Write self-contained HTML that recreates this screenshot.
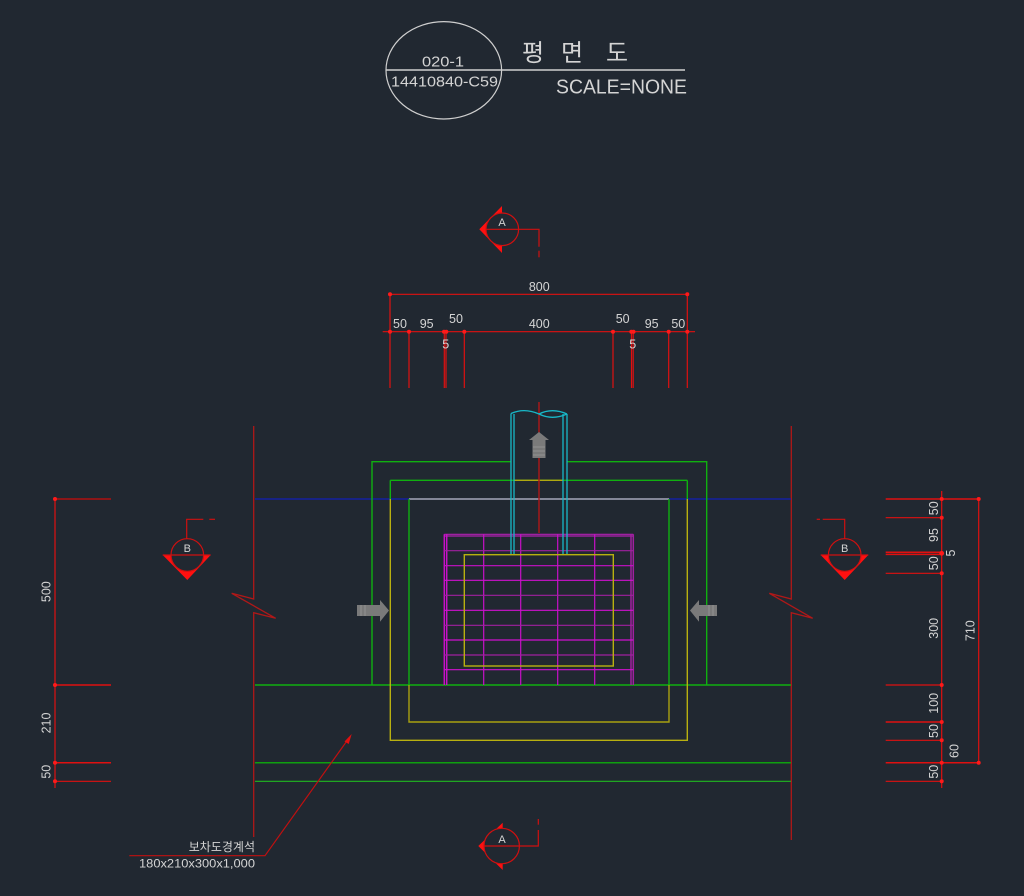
<!DOCTYPE html>
<html><head><meta charset="utf-8"><style>
html,body{margin:0;padding:0;background:#212831;}
svg{display:block;}
text{font-family:"Liberation Sans","Noto Sans CJK KR",sans-serif;fill:#d4d4d4;}
</style></head><body>
<svg width="1024" height="896" viewBox="0 0 1024 896" xmlns="http://www.w3.org/2000/svg">
<rect width="1024" height="896" fill="#212831"/>

<!-- Title block -->
<ellipse cx="443.8" cy="70.3" rx="57.8" ry="48.7" fill="none" stroke="#cfcfcf" stroke-width="1.2"/>
<line x1="386" y1="70" x2="685" y2="70" stroke="#cfcfcf" stroke-width="1.5"/>
<text x="443" y="66.7" font-size="15" text-anchor="middle" textLength="42" lengthAdjust="spacingAndGlyphs">020-1</text>
<text x="391" y="86.7" font-size="15" textLength="107" lengthAdjust="spacingAndGlyphs">14410840-C59</text>
<text x="522" y="61" font-size="24">평</text>
<text x="561" y="61" font-size="24">면</text>
<text x="606" y="61" font-size="24">도</text>
<text x="556" y="93.3" font-size="20" textLength="131" lengthAdjust="spacingAndGlyphs">SCALE=NONE</text>

<!-- Section A top -->
<polygon points="479.3,229.3 502,206 502,253" fill="#ff1010"/>
<circle cx="502.3" cy="229.3" r="16.3" fill="#212831" stroke="#d01010" stroke-width="1.2"/>
<polyline points="486,229.3 539,229.3 539,246.7" fill="none" stroke="#d01010" stroke-width="1.2"/>
<line x1="539" y1="250.7" x2="539" y2="257.3" stroke="#d01010" stroke-width="1.2"/>
<text x="502" y="226" font-size="11" text-anchor="middle">A</text>

<!-- Section A bottom -->
<polygon points="478.3,846 502.7,822.7 502.7,870" fill="#ff1010"/>
<circle cx="501.7" cy="846" r="17.7" fill="#212831" stroke="#d01010" stroke-width="1.2"/>
<polyline points="484,846 538.3,846 538.3,830" fill="none" stroke="#d01010" stroke-width="1.2"/>
<line x1="538.3" y1="819" x2="538.3" y2="824.7" stroke="#d01010" stroke-width="1.2"/>
<text x="502" y="843" font-size="11" text-anchor="middle">A</text>

<!-- Section B left -->
<polygon points="162.7,555 210.7,555 187.3,580" fill="#ff1010"/>
<circle cx="187.3" cy="555" r="16.3" fill="#212831" stroke="#d01010" stroke-width="1.2"/>
<line x1="162.7" y1="555" x2="210.7" y2="555" stroke="#d01010" stroke-width="1.2"/>
<polyline points="186.7,538.7 186.7,519.3 203.3,519.3" fill="none" stroke="#d01010" stroke-width="1.2"/>
<line x1="209.3" y1="519.3" x2="215" y2="519.3" stroke="#d01010" stroke-width="1.2"/>
<text x="187.3" y="552" font-size="11" text-anchor="middle">B</text>

<!-- Section B right -->
<polygon points="820.7,555 868.3,555 844.7,580" fill="#ff1010"/>
<circle cx="844.7" cy="555" r="16.3" fill="#212831" stroke="#d01010" stroke-width="1.2"/>
<line x1="820.7" y1="555" x2="868.3" y2="555" stroke="#d01010" stroke-width="1.2"/>
<polyline points="844.7,538.7 844.7,519.3 822.7,519.3" fill="none" stroke="#d01010" stroke-width="1.2"/>
<line x1="816.7" y1="519.3" x2="820" y2="519.3" stroke="#d01010" stroke-width="1.2"/>
<text x="844.7" y="552" font-size="11" text-anchor="middle">B</text>

<!-- Top dimensions -->
<g stroke="#e01010" stroke-width="1.2" fill="none">
<line x1="390" y1="294.3" x2="687.3" y2="294.3"/>
<line x1="382.7" y1="331.7" x2="695" y2="331.7"/>
<line x1="390" y1="294.3" x2="390" y2="388"/>
<line x1="687.3" y1="294.3" x2="687.3" y2="388"/>
<line x1="409" y1="331.7" x2="409" y2="388"/>
<line x1="444.3" y1="331.7" x2="444.3" y2="388"/>
<line x1="446" y1="331.7" x2="446" y2="388"/>
<line x1="464.3" y1="331.7" x2="464.3" y2="388"/>
<line x1="613" y1="331.7" x2="613" y2="388"/>
<line x1="631.5" y1="331.7" x2="631.5" y2="388"/>
<line x1="633.2" y1="331.7" x2="633.2" y2="388"/>
<line x1="668.7" y1="331.7" x2="668.7" y2="388"/>
</g>
<g fill="#ff1a1a">
<circle cx="390" cy="294.3" r="2"/><circle cx="687.3" cy="294.3" r="2"/>
<circle cx="390" cy="331.7" r="2"/><circle cx="409" cy="331.7" r="2"/>
<circle cx="444" cy="331.7" r="2"/><circle cx="446.3" cy="331.7" r="2"/>
<circle cx="464.3" cy="331.7" r="2"/><circle cx="613" cy="331.7" r="2"/>
<circle cx="631.3" cy="331.7" r="2"/><circle cx="633.5" cy="331.7" r="2"/>
<circle cx="668.7" cy="331.7" r="2"/><circle cx="687.3" cy="331.7" r="2"/>
</g>
<g font-size="12.5" text-anchor="middle">
<text x="539.3" y="291">800</text>
<text x="400" y="328">50</text>
<text x="426.7" y="328">95</text>
<text x="456" y="323">50</text>
<text x="539.3" y="328">400</text>
<text x="622.7" y="323">50</text>
<text x="651.7" y="328">95</text>
<text x="678.3" y="328">50</text>
<text x="445.7" y="348.5">5</text>
<text x="632.7" y="348.5">5</text>
</g>

<!-- Left dimensions -->
<g stroke="#e01010" stroke-width="1.2">
<line x1="55" y1="499" x2="55" y2="788"/>
<line x1="55" y1="499" x2="111" y2="499" stroke="#b01010" stroke-width="1.6"/>
<line x1="55" y1="685" x2="111" y2="685" stroke-width="1.5"/>
<line x1="55" y1="762.7" x2="111" y2="762.7" stroke-width="1.5"/>
<line x1="55" y1="781.3" x2="111" y2="781.3"/>
</g>
<g fill="#ff1a1a">
<circle cx="55" cy="499" r="2"/><circle cx="55" cy="685" r="2"/>
<circle cx="55" cy="762.7" r="2"/><circle cx="55" cy="781.3" r="2"/>
</g>
<g font-size="12.5" text-anchor="middle">
<text transform="translate(50.5,591.7) rotate(-90)">500</text>
<text transform="translate(50.5,723) rotate(-90)">210</text>
<text transform="translate(50.5,771.7) rotate(-90)">50</text>
</g>

<!-- Right dimensions -->
<g stroke="#e01010" stroke-width="1.2">
<line x1="941.7" y1="491" x2="941.7" y2="788"/>
<line x1="978.7" y1="499" x2="978.7" y2="762.7"/>
<line x1="885.7" y1="499" x2="978.7" y2="499" stroke-width="1.5"/>
<line x1="885.7" y1="517.7" x2="941.7" y2="517.7"/>
<line x1="885.7" y1="552.2" x2="941.7" y2="552.2" stroke-width="1.5"/>
<line x1="885.7" y1="554.4" x2="941.7" y2="554.4" stroke-width="1.5"/>
<line x1="885.7" y1="573.3" x2="941.7" y2="573.3"/>
<line x1="885.7" y1="685" x2="941.7" y2="685"/>
<line x1="885.7" y1="722" x2="941.7" y2="722" stroke-width="1.5"/>
<line x1="885.7" y1="740.3" x2="941.7" y2="740.3"/>
<line x1="885.7" y1="762.7" x2="978.7" y2="762.7" stroke-width="1.5"/>
<line x1="885.7" y1="781.3" x2="941.7" y2="781.3"/>
</g>
<g fill="#ff1a1a">
<circle cx="941.7" cy="499" r="2"/><circle cx="941.7" cy="517.7" r="2"/>
<circle cx="941.7" cy="553.3" r="2.4"/><circle cx="941.7" cy="573.3" r="2"/>
<circle cx="941.7" cy="685" r="2"/><circle cx="941.7" cy="722" r="2"/>
<circle cx="941.7" cy="740.3" r="2"/><circle cx="941.7" cy="762.7" r="2"/>
<circle cx="941.7" cy="781.3" r="2"/>
<circle cx="978.7" cy="499" r="2"/><circle cx="978.7" cy="762.7" r="2"/>
</g>
<g font-size="12.5" text-anchor="middle">
<text transform="translate(937.8,508.3) rotate(-90)">50</text>
<text transform="translate(937.8,535) rotate(-90)">95</text>
<text transform="translate(955,553) rotate(-90)">5</text>
<text transform="translate(937.8,563.3) rotate(-90)">50</text>
<text transform="translate(937.8,628.3) rotate(-90)">300</text>
<text transform="translate(937.8,703.3) rotate(-90)">100</text>
<text transform="translate(937.8,731) rotate(-90)">50</text>
<text transform="translate(958.5,751) rotate(-90)">60</text>
<text transform="translate(937.8,771.7) rotate(-90)">50</text>
<text transform="translate(974.5,630.7) rotate(-90)">710</text>
</g>

<!-- Break lines -->
<g stroke="#b01818" stroke-width="1.3" fill="none">
<polyline points="253.7,426 253.7,599 231.7,593.3 275.7,618.3 253.7,612.7 253.7,837"/>
<polyline points="791.3,426 791.3,599 769.3,593.3 812.7,618.3 791.3,612.7 791.3,840"/>
</g>

<!-- Horizontal long lines -->
<line x1="255" y1="499" x2="791" y2="499" stroke="#1420a0" stroke-width="1.5"/>
<line x1="255" y1="685" x2="791" y2="685" stroke="#10b010" stroke-width="1.5"/>
<line x1="255" y1="762.7" x2="791" y2="762.7" stroke="#0fa00f" stroke-width="1.5"/>
<line x1="255" y1="781.3" x2="791" y2="781.3" stroke="#20b820" stroke-width="1.2"/>

<!-- Outer green rect -->
<g stroke="#10b010" stroke-width="1.4" fill="none">
<polyline points="511,461.7 372,461.7 372,685"/>
<polyline points="567,461.7 706.7,461.7 706.7,685"/>
</g>
<!-- Second rect -->
<g stroke-width="1.4" fill="none">
<line x1="390.3" y1="480.3" x2="687.3" y2="480.3" stroke="#10b010"/>
<line x1="514" y1="480.3" x2="563" y2="480.3" stroke="#b0a810"/>
<line x1="390.3" y1="480.3" x2="390.3" y2="499" stroke="#10b010"/>
<line x1="687.3" y1="480.3" x2="687.3" y2="499" stroke="#10b010"/>
<polyline points="390.3,499 390.3,740.3 687.3,740.3 687.3,499" stroke="#b8b010"/>
</g>
<!-- Third rect -->
<g stroke-width="1.4" fill="none">
<line x1="409" y1="499" x2="669" y2="499" stroke="#a8a8a8"/>
<line x1="409" y1="499" x2="409" y2="685" stroke="#10b010"/>
<line x1="669" y1="499" x2="669" y2="685" stroke="#10b010"/>
<polyline points="409,685 409,722 669,722 669,685" stroke="#a8a010"/>
</g>

<!-- Magenta grid -->
<g stroke="#c810c8" stroke-width="1.2" fill="none">
<line x1="444.3" y1="534.3" x2="633.3" y2="534.3" stroke="#b020b0"/>
<line x1="444.3" y1="536" x2="633.3" y2="536" stroke="#b020b0"/>
<line x1="444.3" y1="534.3" x2="444.3" y2="685" stroke-width="1.5"/>
<line x1="446.7" y1="534.3" x2="446.7" y2="685" stroke-width="1.5"/>
<line x1="631" y1="534.3" x2="631" y2="685" stroke="#a020a0" stroke-width="1.5"/>
<line x1="633.3" y1="534.3" x2="633.3" y2="685" stroke="#a020a0" stroke-width="1.5"/>
<line x1="483.7" y1="534.3" x2="483.7" y2="685"/>
<line x1="520.7" y1="534.3" x2="520.7" y2="685"/>
<line x1="557.7" y1="534.3" x2="557.7" y2="685"/>
<line x1="594.7" y1="534.3" x2="594.7" y2="685"/>
<line x1="444.3" y1="550.7" x2="633.3" y2="550.7" stroke="#a020a0"/>
<line x1="444.3" y1="565.7" x2="633.3" y2="565.7"/>
<line x1="444.3" y1="580.3" x2="633.3" y2="580.3" stroke="#d010d0"/>
<line x1="444.3" y1="595.3" x2="633.3" y2="595.3" stroke="#a020a0"/>
<line x1="444.3" y1="610.3" x2="633.3" y2="610.3" stroke="#d010d0"/>
<line x1="444.3" y1="625.3" x2="633.3" y2="625.3" stroke="#a020a0"/>
<line x1="444.3" y1="640" x2="633.3" y2="640" stroke="#d010d0"/>
<line x1="444.3" y1="655" x2="633.3" y2="655" stroke="#a020a0"/>
<line x1="444.3" y1="669.7" x2="633.3" y2="669.7" stroke="#d010d0"/>
</g>
<!-- Inner yellow rect -->
<rect x="464.3" y="554.7" width="149" height="111.3" fill="none" stroke="#b8b010" stroke-width="1.4"/>

<!-- Red center line -->
<line x1="539" y1="402" x2="539" y2="533" stroke="#b01818" stroke-width="1.4"/>

<!-- Pipe -->
<g stroke="#18b8c8" stroke-width="1.3" fill="none">
<line x1="511" y1="413.5" x2="511" y2="554"/>
<line x1="514" y1="414" x2="514" y2="554"/>
<line x1="563" y1="414" x2="563" y2="554"/>
<line x1="567" y1="414" x2="567" y2="554"/>
<path d="M511,413.5 C520,409.5 530,410 539,414 C548,418.5 558,418 567,414"/>
<path d="M539,414 C548,409.5 558,410 567,414"/>
</g>

<!-- Gray arrows -->
<g fill="#7a7a7a">
<polygon points="539,432 549,440 545.5,440 545.5,458 532.5,458 532.5,440 529,440"/>
<polygon points="389,610.5 380,600 380,605 357,605 357,616 380,616 380,621.7"/>
<polygon points="690,610.5 699,600 699,605 717,605 717,616 699,616 699,621.7"/>
</g>
<g stroke="#9a9a9a" stroke-width="0.8">
<line x1="533" y1="447" x2="545" y2="447"/><line x1="533" y1="451" x2="545" y2="451"/><line x1="533" y1="455" x2="545" y2="455"/>
<line x1="361" y1="605" x2="361" y2="616"/><line x1="365" y1="605" x2="365" y2="616"/>
<line x1="713" y1="605" x2="713" y2="616"/><line x1="709" y1="605" x2="709" y2="616"/>
</g>

<!-- Leader label -->
<polyline points="129.3,855.7 265,855.7 349,738" fill="none" stroke="#c01010" stroke-width="1.2"/>
<polygon points="351.7,734 344.5,741.5 348.7,744" fill="#e01010"/>
<text x="255" y="851" font-size="12" text-anchor="end">보차도경계석</text>
<text x="255" y="867.5" font-size="12" text-anchor="end" textLength="116" lengthAdjust="spacingAndGlyphs">180x210x300x1,000</text>
</svg>
</body></html>
